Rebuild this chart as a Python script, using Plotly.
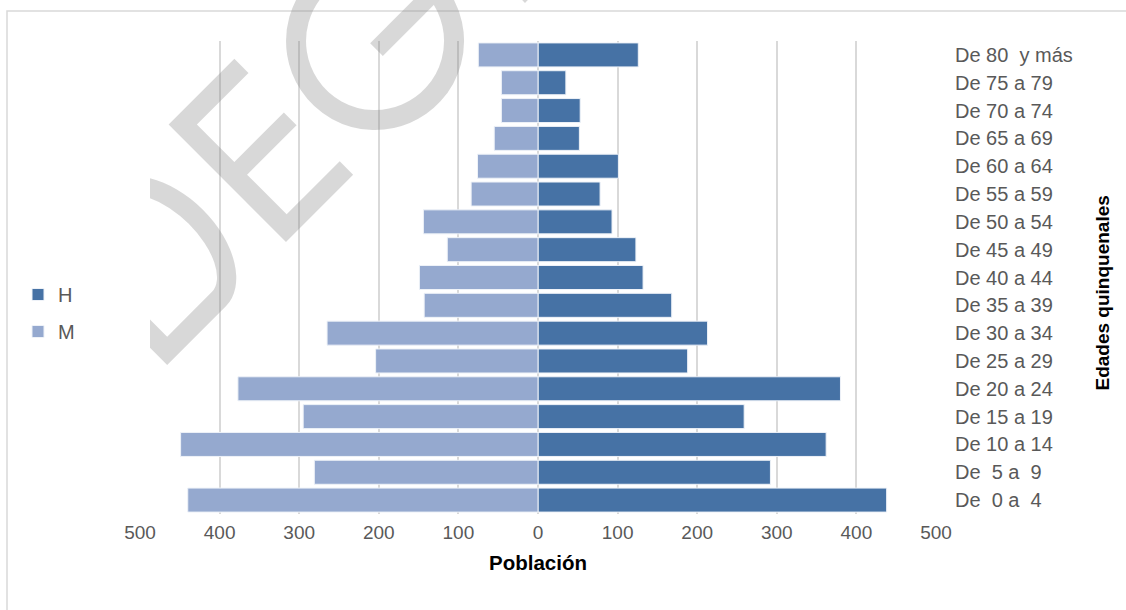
import base64
import plotly.graph_objects as go

# Grupos quinquenales de edad (de mayor a menor, como se leen de arriba abajo)
edades = [
    "De 80 \u00a0y más", "De 75 a 79", "De 70 a 74", "De 65 a 69", "De 60 a 64",
    "De 55 a 59", "De 50 a 54", "De 45 a 49", "De 40 a 44", "De 35 a 39",
    "De 30 a 34", "De 25 a 29", "De 20 a 24", "De 15 a 19", "De 10 a 14",
    "De \u00a05 a \u00a09", "De \u00a00 a \u00a04",
]
hombres = [126, 35, 53, 52, 101, 78, 93, 123, 132, 168, 213, 188, 380, 259, 362, 292, 438]
mujeres = [75, 46, 46, 55, 76, 84, 144, 114, 149, 143, 265, 204, 377, 295, 449, 281, 440]

x_ticks = [-500, -400, -300, -200, -100, 0, 100, 200, 300, 400, 500]
x_labels = [str(abs(v)) for v in x_ticks]

FONT = "Liberation Sans, Arial, sans-serif"
COLOR_H = "#4672a5"
COLOR_M = "#95a9cf"

W, H = 1126, 610
ML, MR, MT, MB = 140, 190, 41, 96
PW, PH = W - ML - MR, H - MT - MB


def px_x(x):
    return (x - ML) / PW


def px_y(y):
    return (H - MB - y) / PH


fig = go.Figure()
fig.add_trace(go.Bar(
    y=edades, x=hombres, name="H", orientation="h",
    marker=dict(color=COLOR_H, line=dict(color="#eef2f8", width=1)),
    legendgroup="h", hoverinfo="skip",
))
fig.add_trace(go.Bar(
    y=edades, x=[-v for v in mujeres], name="M", orientation="h",
    marker=dict(color=COLOR_M, line=dict(color="#eef2f8", width=1)),
    legendgroup="m", hoverinfo="skip",
))

# Marca de agua "DEG" girada 45°, recortada a la izquierda
marca = f"""<svg xmlns='http://www.w3.org/2000/svg' width='{W}' height='{H}' viewBox='0 0 {W} {H}'>
<defs><clipPath id='c'><rect x='150' y='0' width='{W - 150}' height='{H}'/></clipPath></defs>
<g clip-path='url(#c)' opacity='0.3' fill='#808080'>
<g transform='translate(168.6,124.5) rotate(-45)'>
<path fill-rule='evenodd' d='M -171,0 H -88 A 52 84.5 0 0 1 -88,169 H -171 Z
 M -151,20 H -88 A 32 64.5 0 0 1 -88,149 H -151 Z'/>
<path d='M 0,0 H 93 V 20 H 20 V 73 H 90 V 91 H 20 V 147 H 95 V 166 H 0 Z'/>
<path d='M 265.5,36.2 A 79 79 0 1 0 283.2,98' fill='none' stroke='#808080' stroke-width='20'/>
<rect x='200' y='85' width='93' height='18'/>
<rect x='338' y='0' width='19' height='166'/>
</g></g></svg>"""
marca_uri = "data:image/svg+xml;base64," + base64.b64encode(marca.encode()).decode()

fig.update_layout(
    width=W, height=H,
    margin=dict(l=ML, r=MR, t=MT, b=MB, autoexpand=False),
    paper_bgcolor="white", plot_bgcolor="white",
    barmode="overlay", bargap=0.137,
    font=dict(family=FONT, color="#595959"),
    showlegend=True,
    legend=dict(
        x=px_x(18), y=px_y(275), xanchor="left", yanchor="top",
        font=dict(size=20, color="#595959", family=FONT),
        traceorder="grouped", tracegroupgap=8,
        itemwidth=30,
        bgcolor="rgba(0,0,0,0)",
    ),
    xaxis=dict(
        range=[-500, 500], tickvals=x_ticks, ticktext=x_labels,
        showgrid=True, gridcolor="#d9d9d9", gridwidth=2,
        zeroline=True, zerolinecolor="#d9d9d9", zerolinewidth=2,
        showline=False, ticks="outside", ticklen=1, tickcolor="rgba(0,0,0,0)",
        fixedrange=True,
        tickfont=dict(size=19, color="#595959", family=FONT),
    ),
    yaxis=dict(
        categoryorder="array", categoryarray=edades[::-1],
        side="right", showgrid=False, zeroline=False, showline=False,
        ticks="", ticklabelstandoff=18, fixedrange=True,
        tickfont=dict(size=20, color="#595959", family=FONT),
    ),
    shapes=[dict(
        type="rect", xref="paper", yref="paper",
        x0=px_x(7), x1=px_x(W + 10), y0=px_y(H + 10), y1=px_y(11),
        line=dict(color="#d9d9d9", width=1.5), fillcolor="rgba(0,0,0,0)",
        layer="below",
    )],
    images=[dict(
        source=marca_uri, xref="paper", yref="paper",
        x=px_x(0), y=px_y(0), sizex=W / PW, sizey=H / PH,
        xanchor="left", yanchor="top", sizing="stretch", layer="above",
    )],
    annotations=[
        dict(text="<b>Población</b>", xref="paper", yref="paper",
             x=px_x(537.5), y=px_y(562), xanchor="center", yanchor="middle",
             showarrow=False, font=dict(size=20.5, color="black", family=FONT)),
        dict(text="<b>Edades quinquenales</b>", xref="paper", yref="paper",
             x=px_x(1102), y=px_y(293.5), xanchor="center", yanchor="middle",
             textangle=-90, showarrow=False,
             font=dict(size=19, color="black", family=FONT)),
    ],
)

fig.write_html("out.html", config={"displayModeBar": False})
